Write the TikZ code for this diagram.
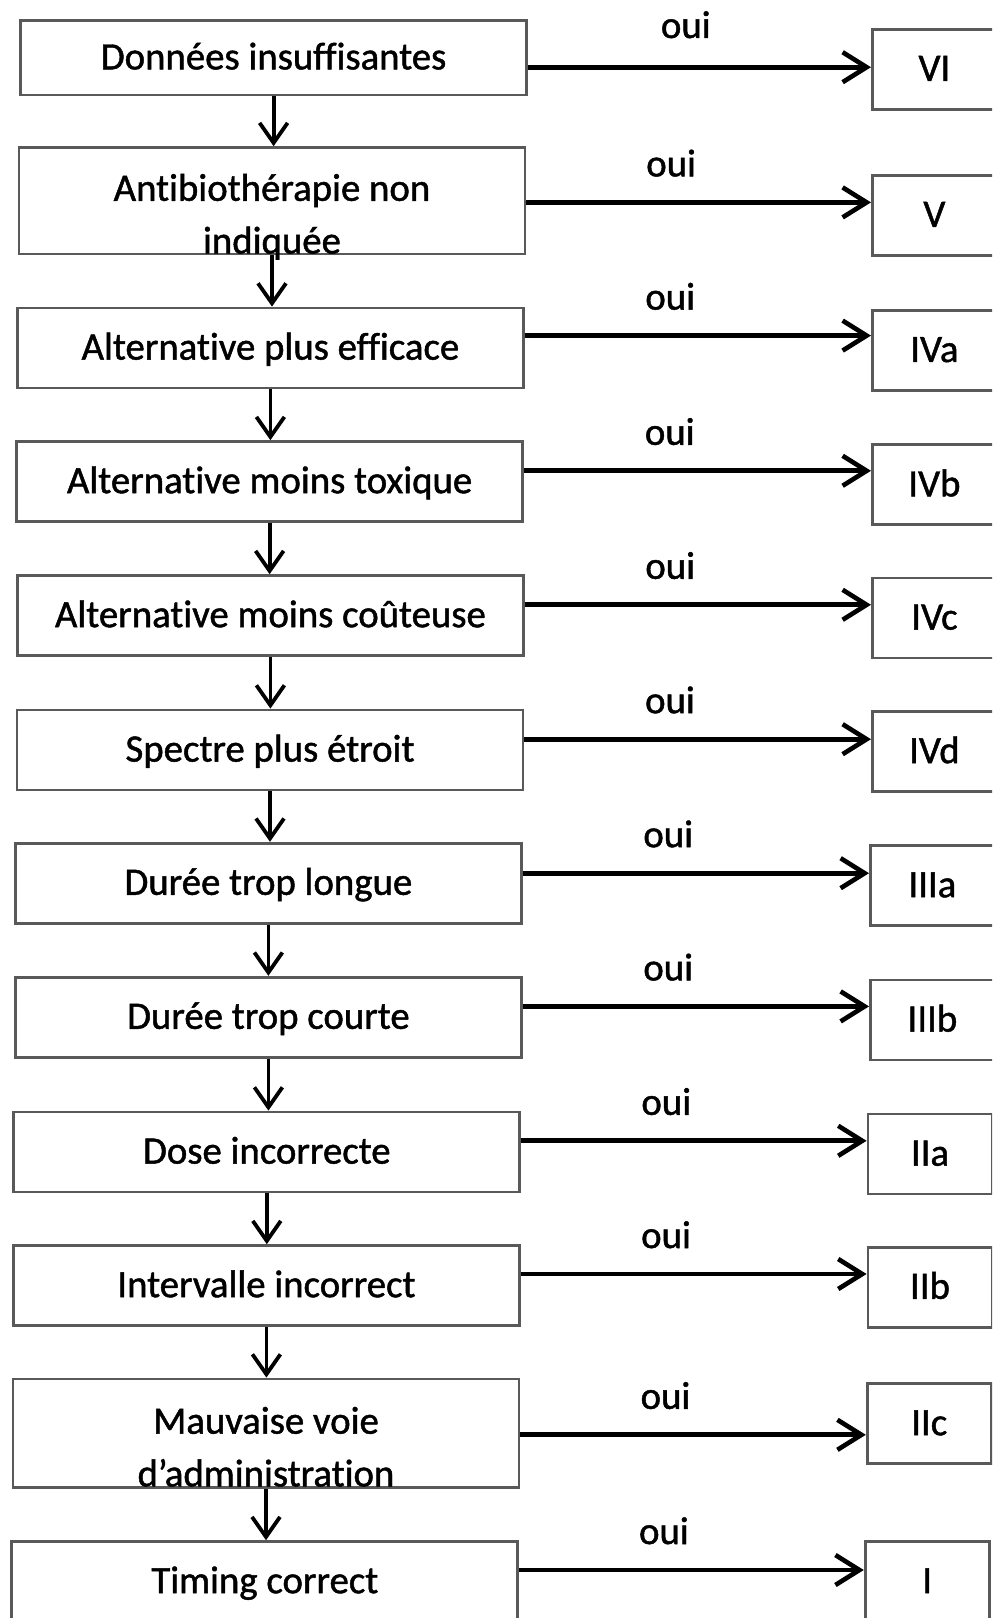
\documentclass[tikz,border=0pt]{standalone}
\usepackage{fontspec}
\setmainfont{Carlito}[Ligatures=NoCommon,FakeBold=1.2]
\usetikzlibrary{arrows.meta}

\begin{document}
\begin{tikzpicture}[
		node_style/.style={rectangle,draw=black!65,line width=2pt,fill=white,minimum width=12.65cm,minimum height=2cm,font=\fontsize{27.6}{37.5}\selectfont,text height=17.9pt,text depth=1.4pt},
		class_style/.style={node_style,minimum width=3.1cm},
		text_style/.style={align=center,font=\fontsize{27.6}{37.5}\selectfont},
		oui_style/.style={pos=0.42,yshift=0.98cm,font=\fontsize{27.6}{30}\selectfont},
		edge_style/.style={draw=black,line width=3.3pt,-{Straight Barb[length=6mm,width=7.5mm]}},
		down_style/.style={draw=black,line width=2.7pt,-{Straight Barb[length=5mm,width=7mm]}}]
		
		\clip (0,0) rectangle (24.8,-40.45);
		\useasboundingbox (0,0) rectangle (24.8,-40.45);
		
		\node[node_style,minimum height=1.86cm] (l1) at (6.84,-1.445) {Données insuffisantes};
		\node[node_style,minimum height=2.66cm] (l2) at (6.80,-5.02) {};
		\node[node_style] (l3) at (6.76,-8.70) {Alternative plus efficace};
		\node[node_style] (l4) at (6.74,-12.04) {Alternative moins toxique};
		\node[node_style] (l5) at (6.76,-15.39) {Alternative moins coûteuse};
		\node[node_style] (l6) at (6.75,-18.75) {Spectre plus étroit};
		\node[node_style] (l7) at (6.71,-22.08) {Durée trop longue};
		\node[node_style] (l8) at (6.71,-25.43) {Durée trop courte};
		\node[node_style] (l9) at (6.67,-28.80) {Dose incorrecte};
		\node[node_style] (l10) at (6.66,-32.14) {Intervalle incorrect};
		\node[node_style,minimum height=2.71cm] (l11) at (6.65,-35.83) {};
		\node[node_style] (l12) at (6.62,-39.54) {Timing correct};
		
		\node[text_style] (t2) at (6.80,-5.42) {Antibiothérapie non\\indiquée};
		\node[text_style] (t11) at (6.65,-36.17) {Mauvaise voie\\d’administration};
		
		\node[class_style] (r1) at (23.36,-1.73) {VI};
		\node[class_style] (r2) at (23.36,-5.38) {V};
		\node[class_style] (r3) at (23.36,-8.76) {IVa};
		\node[class_style] (r4) at (23.36,-12.12) {IVb};
		\node[class_style] (r5) at (23.36,-15.45) {IVc};
		\node[class_style] (r6) at (23.36,-18.79) {IVd};
		\node[class_style] (r7) at (23.31,-22.14) {IIIa};
		\node[class_style] (r8) at (23.31,-25.50) {IIIb};
		\node[class_style] (r9) at (23.25,-28.85) {IIa};
		\node[class_style] (r10) at (23.25,-32.18) {IIb};
		\node[class_style] (r11) at (23.23,-35.59) {IIc};
		\node[class_style] (r12) at (23.18,-39.54) {I};
		
		\draw[edge_style] (l1.east |- 0,-1.68) -- node[oui_style,pos=0.46,yshift=0.08cm] (o1) {oui} (r1.west |- 0,-1.68);
		\draw[edge_style] (l2.east |- 0,-5.06) -- node[oui_style] (o2) {oui} (r2.west |- 0,-5.06);
		\draw[edge_style] (l3.east |- 0,-8.39) -- node[oui_style] (o3) {oui} (r3.west |- 0,-8.39);
		\draw[edge_style] (l4.east |- 0,-11.77) -- node[oui_style] (o4) {oui} (r4.west |- 0,-11.77);
		\draw[edge_style] (l5.east |- 0,-15.12) -- node[oui_style] (o5) {oui} (r5.west |- 0,-15.12);
		\draw[edge_style] (l6.east |- 0,-18.48) -- node[oui_style] (o6) {oui} (r6.west |- 0,-18.48);
		\draw[edge_style] (l7.east |- 0,-21.83) -- node[oui_style] (o7) {oui} (r7.west |- 0,-21.83);
		\draw[edge_style] (l8.east |- 0,-25.16) -- node[oui_style] (o8) {oui} (r8.west |- 0,-25.16);
		\draw[edge_style] (l9.east |- 0,-28.52) -- node[oui_style] (o9) {oui} (r9.west |- 0,-28.52);
		\draw[edge_style] (l10.east |- 0,-31.85) -- node[oui_style] (o10) {oui} (r10.west |- 0,-31.85);
		\draw[edge_style] (l11.east |- 0,-35.87) -- node[oui_style] (o11) {oui} (r11.west |- 0,-35.87);
		\draw[edge_style] (l12.east |- 0,-39.25) -- node[oui_style] (o12) {oui} (r12.west |- 0,-39.25);
		
		\draw[down_style] (l1.south) -- (l1.south |- l2.north);
		\draw[down_style] (l2.south) -- (l2.south |- l3.north);
		\draw[down_style] (l3.south) -- (l3.south |- l4.north);
		\draw[down_style] (l4.south) -- (l4.south |- l5.north);
		\draw[down_style] (l5.south) -- (l5.south |- l6.north);
		\draw[down_style] (l6.south) -- (l6.south |- l7.north);
		\draw[down_style] (l7.south) -- (l7.south |- l8.north);
		\draw[down_style] (l8.south) -- (l8.south |- l9.north);
		\draw[down_style] (l9.south) -- (l9.south |- l10.north);
		\draw[down_style] (l10.south) -- (l10.south |- l11.north);
		\draw[down_style] (l11.south) -- (l11.south |- l12.north);
		
\end{tikzpicture}
\end{document}
